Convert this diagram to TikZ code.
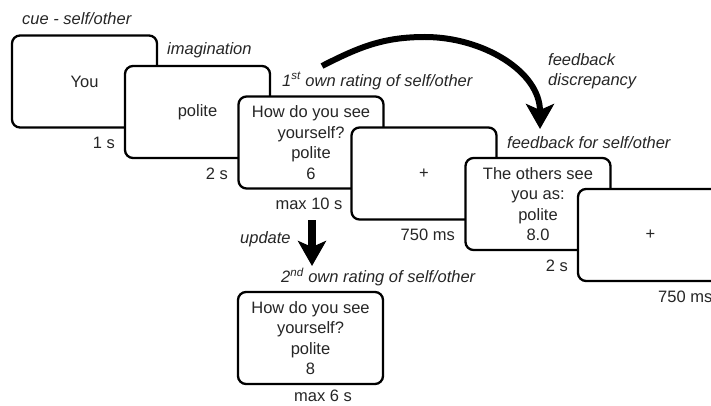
\documentclass[tikz,border=0pt]{standalone}
\usepackage{fontspec}
\setmainfont{Liberation Sans}
\usetikzlibrary{arrows.meta}
\definecolor{txt}{HTML}{262626}
\begin{document}
\begin{tikzpicture}[x=1pt,y=-1pt,
 screen/.style={draw=black, line width=2.3pt, rounded corners=8pt, fill=white,
   minimum width=145pt, minimum height=92pt, align=center, inner sep=0pt,
   text=txt, font=\fontsize{16.5}{20.5}\selectfont},
 lbl/.style={text=txt, font=\fontsize{16.5}{20.5}\selectfont\itshape, inner sep=0pt},
 dur/.style={text=txt, font=\fontsize{16.5}{20}\selectfont, inner sep=0pt},
 bigarrow/.style={draw=black, -{Stealth[length=25pt,width=28pt,inset=6pt]}}]
\useasboundingbox (0,0) rectangle (711,406);
\clip (0,0) rectangle (711,406);
\fill[white] (0,0) rectangle (711,406);

% screens
\node[screen] (s1) at (84.5,81.5) {You};
\node[screen] (s2) at (197.5,112) {polite};
\node[screen] (s3) at (311,142.5) {How do you see\\yourself?\\polite\\6};
\node[screen] (s4) at (424,173.5) {+};
\node[screen] (s5) at (538,204) {The others see\\you as:\\polite\\8.0};
\node[screen] (s6) at (650.5,235) {+};
\node[screen] (s7) at (310.5,338) {How do you see\\yourself?\\polite\\8};

% italic labels
\node[lbl, anchor=west] (lcue) at (22,19) {cue - self/other};
\node[lbl, anchor=west] (limg) at (167,50) {imagination};
\node[lbl, anchor=west] (lr1) at (282,81) {1\textsuperscript{st} own rating of self/other};
\node[lbl, anchor=west, align=left] (lfd) at (548,71) {feedback\\discrepancy};
\node[lbl, anchor=west] (lfb) at (507,143) {feedback for self/other};
\node[lbl, anchor=west] (lr2) at (281,277) {2\textsuperscript{nd} own rating of self/other};
\node[lbl, anchor=west] (lupd) at (240,239) {update};

% durations
\node[dur, anchor=east] (d1) at (115,143) {1 s};
\node[dur, anchor=east] (d2) at (228,174) {2 s};
\node[dur] (d3) at (309,204) {max 10 s};
\node[dur, anchor=east] (d4) at (455,235) {750 ms};
\node[dur, anchor=east] (d5) at (568,266) {2 s};
\node[dur, anchor=west] (d6) at (658,297) {750 ms};
\node[dur] (d7) at (323,396) {max 6 s};

% arrows
\coordinate (a1s) at (322,66);
\coordinate (a1m) at (425,37);
\coordinate (a1t) at (540,129);
\draw[bigarrow, line width=6pt] (a1s) to[out=27,in=180] (a1m) to[out=0,in=90] (a1t);
\coordinate (a2s) at (312,220);
\coordinate (a2t) at (312,266);
\draw[bigarrow, line width=8pt] (a2s) -- (a2t);
\end{tikzpicture}
\end{document}
